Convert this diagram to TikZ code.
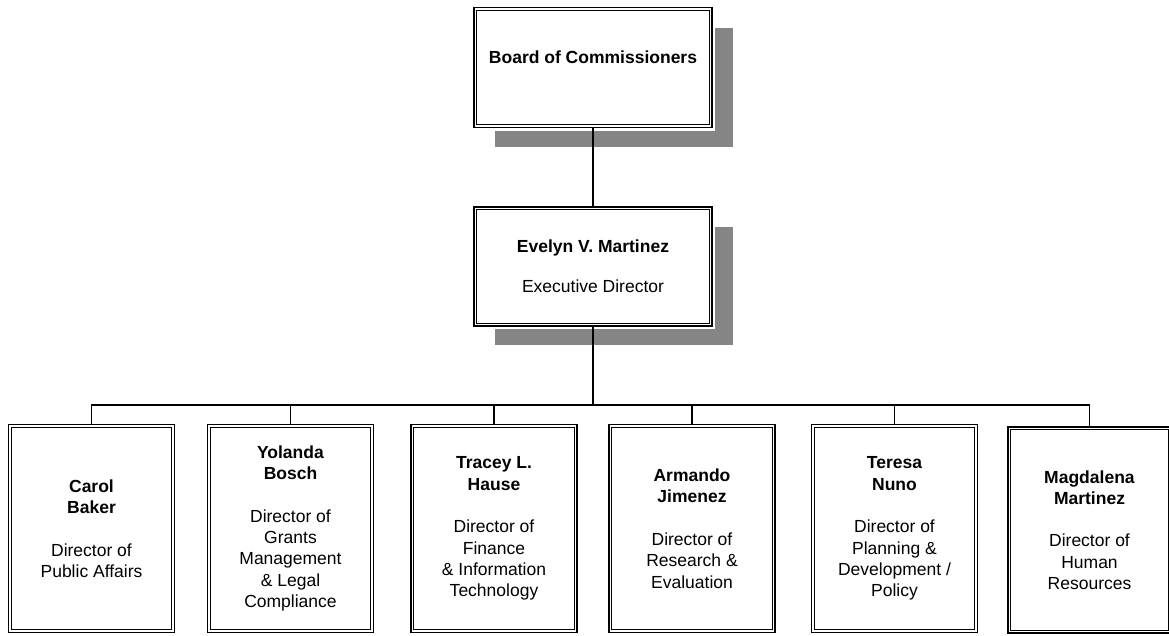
\documentclass[tikz,border=0pt]{standalone}
\usepackage{fontspec}
\setmainfont{Liberation Sans}
\begin{document}
\begin{tikzpicture}[x=1pt,y=-1pt,
  outerbox/.style={draw=black, line width=1.7pt, fill=white, inner sep=0pt, align=center},
  topbox/.style={outerbox, minimum width=238pt, minimum height=120pt},
  subbox/.style={outerbox, minimum width=166pt, minimum height=208pt},
  shadowfill/.style={fill=black!48, draw=none},
  halo/.style={fill=white, draw=none},
  innerframe/.style={draw=black, line width=0.9pt},
  conn/.style={draw=black, line width=1.1pt},
  bigtext/.style={font=\fontsize{17.5}{21.3}\selectfont},
  every node/.style={bigtext}]
\useasboundingbox (0,0) rectangle (1169,635);
\clip (0,0) rectangle (1169,635);
\fill[white] (0,0) rectangle (1169,635);

% shadows
\path[shadowfill] (495,28) rectangle (733,147);
\path[shadowfill] (495,227) rectangle (733,345);
\path[halo] (471,4) rectangle (715,131);
\path[halo] (471,204) rectangle (715,329);

% top level boxes
\node[topbox] (board) at (593,67.5) {};
\node[anchor=base] (boardtxt) at (593,63) {\textbf{Board of Commissioners}};
\node[topbox, minimum height=119pt] (exec) at (593,266.5) {};
\node[align=center] (exectxt) at (593,266) {\textbf{Evelyn V. Martinez}\\[18.7pt]Executive Director};

% directors
\node[subbox] (b1) at (91.5,528.5) {\textbf{Carol}\\\textbf{Baker}\\[21.3pt]Director of\\Public Affairs};
\node[subbox] (b2) at (290.5,528.5) {\textbf{Yolanda}\\\textbf{Bosch}\\[21.3pt]Director of\\Grants\\Management\\\& Legal\\Compliance};
\node[subbox] (b3) at (494,528.5) {\textbf{Tracey L.}\\\textbf{Hause}\\[21.3pt]Director of\\Finance\\\& Information\\Technology};
\node[subbox] (b4) at (692,528.5) {\textbf{Armando}\\\textbf{Jimenez}\\[21.3pt]Director of\\Research \&\\Evaluation};
\node[subbox] (b5) at (894.5,528.5) {\textbf{Teresa}\\\textbf{Nuno}\\[21.3pt]Director of\\Planning \&\\Development /\\Policy};
\node[subbox, minimum width=163pt, minimum height=206pt] (b6) at (1089.5,530) {\textbf{Magdalena}\\\textbf{Martinez}\\[21.3pt]Director of\\Human\\Resources};

% inner frames
\foreach \n in {board,exec,b1,b2,b3,b4,b5,b6}{
  \draw[innerframe] ([xshift=3.6pt,yshift=-3.6pt]\n.north west) rectangle ([xshift=-3.6pt,yshift=3.6pt]\n.south east);
}

% connectors
\coordinate (bus) at (0,405);
\draw[conn] (board.south) -- (exec.north);
\draw[conn] (exec.south) -- (exec.south |- bus);
\draw[conn] (b1.north) -- (b1.north |- bus) -- (b6.north |- bus) -- (b6.north);
\foreach \n in {b2,b3,b4,b5}{
  \draw[conn] (\n.north) -- (\n.north |- bus);
}
\end{tikzpicture}
\end{document}
